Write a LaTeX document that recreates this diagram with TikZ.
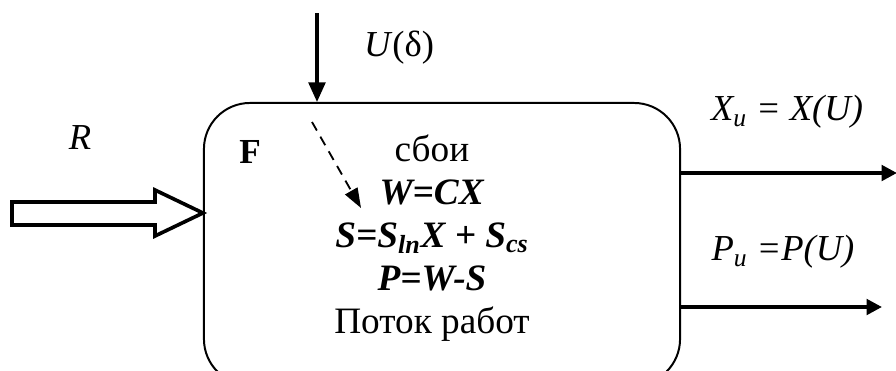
\documentclass[tikz,border=0pt]{standalone}
\usepackage{fontspec}
\setmainfont{Liberation Serif}
\usetikzlibrary{arrows.meta}

\begin{document}
\begin{tikzpicture}[
  x=0.025cm, y=-0.025cm,
  font=\fontsize{26.5}{30.5}\selectfont,
  block/.style={draw, line width=1.4pt, rounded corners=1.15cm,
                minimum width=11.9cm, minimum height=7.05cm},
  flow/.style={line width=2.2pt, -{Triangle[length=14pt, width=12pt]}},
  outflow/.style={line width=2.6pt, -{Triangle[length=11pt, width=11pt]}},
  hint/.style={line width=1.3pt, dash pattern=on 7pt off 5pt,
               -{Triangle[length=14pt, width=10pt]}},
  fat/.style={draw, line width=2.6pt, line join=miter, fill=white},
  lbl/.style={font=\fontsize{26}{30}\selectfont\itshape},
]
\useasboundingbox (0,0) rectangle (896,370);

% ── system block ──────────────────────────────────────────────────────────────
\node[block] (box) at (442,244) {};
\node[font=\fontsize{25}{30}\selectfont\bfseries] (f) at (250,152) {F};
\node[align=center] (model) at (432,238) {
  сбои \\
  \textbf{\textit{W=CX}} \\
  \textbf{\textit{S=S\textsubscript{ln}X + S\textsubscript{cs}}} \\
  \textbf{\textit{P=W-S}} \\
  Поток работ
};

% ── control input ─────────────────────────────────────────────────────────────
\coordinate (utop) at (317,13);
\draw[flow] (utop) -- (utop |- box.north);
\node[font=\fontsize{26}{30}\selectfont] (ulbl) at (399,48) {\textit{U}(δ)};

\coordinate (hfrom) at (312,122);
\coordinate (hto) at (361,208);
\draw[hint] (hfrom) -- (hto);

% ── resource input ────────────────────────────────────────────────────────────
\node[lbl] (rlbl) at (80,138) {R};
\coordinate (rtip) at (box.west |- 0,213);
\draw[fat] (12,202) -- (155,202) -- (155,190) -- (rtip)
           -- (155,236) -- (155,225) -- (12,225) -- cycle;

% ── outputs ───────────────────────────────────────────────────────────────────
\coordinate (xend) at (897,173);
\coordinate (pend) at (882,307);
\draw[outflow] (box.east |- xend) -- (xend);
\draw[outflow] (box.east |- pend) -- (pend);
\node[lbl] (xlbl) at (787,112) {X\textsubscript{u} = X(U)};
\node[lbl] (plbl) at (783,252) {P\textsubscript{u} =P(U)};

\end{tikzpicture}
\end{document}
